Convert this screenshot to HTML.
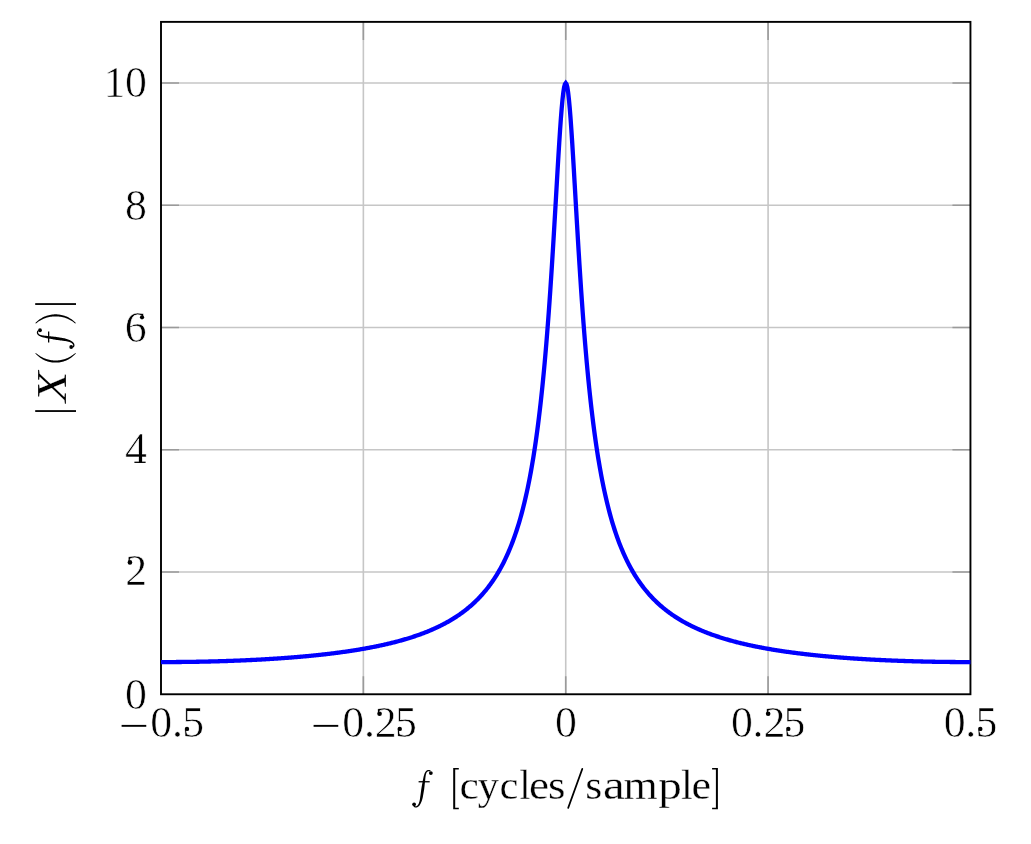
<!DOCTYPE html><html><head><meta charset="utf-8"><style>
html,body{margin:0;padding:0;background:#fff;width:1031px;height:844px;overflow:hidden}
svg{display:block;will-change:transform}
text{font-family:"Liberation Serif",serif;fill:#000}
</style></head><body>
<svg width="1031" height="844" viewBox="0 0 1031 844" role="img" aria-label="|X(f)| versus f [cycles/sample]">
<rect width="1031" height="844" fill="#fff"/>
<path d="M363.36 21.88V694.25M565.73 21.88V694.25M768.09 21.88V694.25M161.00 572.00H970.45M161.00 449.75H970.45M161.00 327.50H970.45M161.00 205.25H970.45M161.00 83.00H970.45" stroke="#c6c6c6" stroke-width="1.6" fill="none"/>
<path d="M363.36 694.25v-18M363.36 21.88v18M565.73 694.25v-18M565.73 21.88v18M768.09 694.25v-18M768.09 21.88v18M161.00 572.00h18M970.45 572.00h-18M161.00 449.75h18M970.45 449.75h-18M161.00 327.50h18M970.45 327.50h-18M161.00 205.25h18M970.45 205.25h-18M161.00 83.00h18M970.45 83.00h-18" stroke="#9a9a9a" stroke-width="1.6" fill="none"/>
<rect x="161.00" y="21.88" width="809.45" height="672.38" stroke="#000" stroke-width="1.9" fill="none"/>
<polyline points="161.00,662.08 161.81,662.08 162.62,662.08 163.43,662.08 164.24,662.08 165.05,662.07 165.86,662.07 166.67,662.07 167.48,662.07 168.29,662.07 169.09,662.06 169.90,662.06 170.71,662.06 171.52,662.05 172.33,662.05 173.14,662.04 173.95,662.04 174.76,662.03 175.57,662.03 176.38,662.02 177.19,662.02 178.00,662.01 178.81,662.00 179.62,662.00 180.43,661.99 181.24,661.98 182.05,661.97 182.86,661.96 183.66,661.95 184.47,661.95 185.28,661.94 186.09,661.93 186.90,661.92 187.71,661.91 188.52,661.90 189.33,661.88 190.14,661.87 190.95,661.86 191.76,661.85 192.57,661.84 193.38,661.82 194.19,661.81 195.00,661.80 195.81,661.78 196.62,661.77 197.43,661.76 198.23,661.74 199.04,661.73 199.85,661.71 200.66,661.70 201.47,661.68 202.28,661.66 203.09,661.65 203.90,661.63 204.71,661.61 205.52,661.59 206.33,661.58 207.14,661.56 207.95,661.54 208.76,661.52 209.57,661.50 210.38,661.48 211.19,661.46 212.00,661.44 212.80,661.42 213.61,661.40 214.42,661.38 215.23,661.35 216.04,661.33 216.85,661.31 217.66,661.29 218.47,661.26 219.28,661.24 220.09,661.22 220.90,661.19 221.71,661.17 222.52,661.14 223.33,661.12 224.14,661.09 224.95,661.07 225.76,661.04 226.57,661.01 227.37,660.98 228.18,660.96 228.99,660.93 229.80,660.90 230.61,660.87 231.42,660.84 232.23,660.81 233.04,660.78 233.85,660.75 234.66,660.72 235.47,660.69 236.28,660.66 237.09,660.63 237.90,660.60 238.71,660.56 239.52,660.53 240.33,660.50 241.14,660.46 241.94,660.43 242.75,660.39 243.56,660.36 244.37,660.32 245.18,660.29 245.99,660.25 246.80,660.21 247.61,660.18 248.42,660.14 249.23,660.10 250.04,660.06 250.85,660.02 251.66,659.99 252.47,659.95 253.28,659.91 254.09,659.87 254.90,659.82 255.71,659.78 256.52,659.74 257.32,659.70 258.13,659.66 258.94,659.61 259.75,659.57 260.56,659.53 261.37,659.48 262.18,659.44 262.99,659.39 263.80,659.35 264.61,659.30 265.42,659.25 266.23,659.20 267.04,659.16 267.85,659.11 268.66,659.06 269.47,659.01 270.28,658.96 271.09,658.91 271.89,658.86 272.70,658.81 273.51,658.76 274.32,658.71 275.13,658.65 275.94,658.60 276.75,658.55 277.56,658.49 278.37,658.44 279.18,658.38 279.99,658.33 280.80,658.27 281.61,658.21 282.42,658.16 283.23,658.10 284.04,658.04 284.85,657.98 285.66,657.92 286.46,657.86 287.27,657.80 288.08,657.74 288.89,657.68 289.70,657.62 290.51,657.55 291.32,657.49 292.13,657.43 292.94,657.36 293.75,657.30 294.56,657.23 295.37,657.16 296.18,657.10 296.99,657.03 297.80,656.96 298.61,656.89 299.42,656.82 300.23,656.75 301.03,656.68 301.84,656.61 302.65,656.54 303.46,656.47 304.27,656.39 305.08,656.32 305.89,656.24 306.70,656.17 307.51,656.09 308.32,656.02 309.13,655.94 309.94,655.86 310.75,655.78 311.56,655.70 312.37,655.62 313.18,655.54 313.99,655.46 314.80,655.38 315.60,655.29 316.41,655.21 317.22,655.13 318.03,655.04 318.84,654.96 319.65,654.87 320.46,654.78 321.27,654.69 322.08,654.60 322.89,654.51 323.70,654.42 324.51,654.33 325.32,654.24 326.13,654.15 326.94,654.05 327.75,653.96 328.56,653.86 329.37,653.76 330.18,653.67 330.98,653.57 331.79,653.47 332.60,653.37 333.41,653.27 334.22,653.17 335.03,653.06 335.84,652.96 336.65,652.86 337.46,652.75 338.27,652.64 339.08,652.54 339.89,652.43 340.70,652.32 341.51,652.21 342.32,652.10 343.13,651.98 343.94,651.87 344.75,651.76 345.55,651.64 346.36,651.53 347.17,651.41 347.98,651.29 348.79,651.17 349.60,651.05 350.41,650.93 351.22,650.80 352.03,650.68 352.84,650.55 353.65,650.43 354.46,650.30 355.27,650.17 356.08,650.04 356.89,649.91 357.70,649.78 358.51,649.64 359.32,649.51 360.12,649.37 360.93,649.24 361.74,649.10 362.55,648.96 363.36,648.82 364.17,648.67 364.98,648.53 365.79,648.38 366.60,648.24 367.41,648.09 368.22,647.94 369.03,647.79 369.84,647.64 370.65,647.48 371.46,647.33 372.27,647.17 373.08,647.01 373.89,646.85 374.69,646.69 375.50,646.53 376.31,646.36 377.12,646.20 377.93,646.03 378.74,645.86 379.55,645.69 380.36,645.52 381.17,645.34 381.98,645.17 382.79,644.99 383.60,644.81 384.41,644.63 385.22,644.44 386.03,644.26 386.84,644.07 387.65,643.88 388.46,643.69 389.26,643.50 390.07,643.30 390.88,643.11 391.69,642.91 392.50,642.71 393.31,642.50 394.12,642.30 394.93,642.09 395.74,641.88 396.55,641.67 397.36,641.46 398.17,641.24 398.98,641.02 399.79,640.80 400.60,640.58 401.41,640.35 402.22,640.12 403.03,639.89 403.84,639.66 404.64,639.42 405.45,639.19 406.26,638.95 407.07,638.70 407.88,638.46 408.69,638.21 409.50,637.96 410.31,637.70 411.12,637.45 411.93,637.19 412.74,636.92 413.55,636.66 414.36,636.39 415.17,636.12 415.98,635.84 416.79,635.56 417.60,635.28 418.41,635.00 419.21,634.71 420.02,634.42 420.83,634.12 421.64,633.82 422.45,633.52 423.26,633.21 424.07,632.90 424.88,632.59 425.69,632.27 426.50,631.95 427.31,631.63 428.12,631.30 428.93,630.97 429.74,630.63 430.55,630.29 431.36,629.94 432.17,629.59 432.98,629.24 433.78,628.88 434.59,628.52 435.40,628.15 436.21,627.77 437.02,627.40 437.83,627.01 438.64,626.63 439.45,626.23 440.26,625.84 441.07,625.43 441.88,625.02 442.69,624.61 443.50,624.19 444.31,623.76 445.12,623.33 445.93,622.89 446.74,622.45 447.55,622.00 448.35,621.54 449.16,621.08 449.97,620.61 450.78,620.13 451.59,619.65 452.40,619.16 453.21,618.66 454.02,618.16 454.83,617.65 455.64,617.13 456.45,616.60 457.26,616.06 458.07,615.52 458.88,614.97 459.69,614.41 460.50,613.84 461.31,613.26 462.12,612.67 462.92,612.08 463.73,611.47 464.54,610.85 465.35,610.23 466.16,609.59 466.97,608.95 467.78,608.29 468.59,607.62 469.40,606.94 470.21,606.25 471.02,605.55 471.83,604.83 472.64,604.11 473.45,603.37 474.26,602.61 475.07,601.85 475.88,601.07 476.69,600.28 477.49,599.47 478.30,598.65 479.11,597.81 479.92,596.95 480.73,596.08 481.54,595.20 482.35,594.30 483.16,593.38 483.97,592.44 484.78,591.48 485.59,590.51 486.40,589.51 487.21,588.50 488.02,587.46 488.83,586.41 489.64,585.33 490.45,584.23 491.26,583.10 492.07,581.96 492.87,580.78 493.68,579.59 494.49,578.36 495.30,577.11 496.11,575.83 496.92,574.53 497.73,573.19 498.54,571.82 499.35,570.42 500.16,568.99 500.97,567.52 501.78,566.02 502.59,564.48 503.40,562.91 504.21,561.29 505.02,559.64 505.83,557.94 506.64,556.20 507.44,554.41 508.25,552.58 509.06,550.70 509.87,548.77 510.68,546.78 511.49,544.74 512.30,542.65 513.11,540.49 513.92,538.28 514.73,536.00 515.54,533.65 516.35,531.23 517.16,528.75 517.97,526.18 518.78,523.54 519.59,520.81 520.40,518.00 521.21,515.10 522.01,512.11 522.82,509.01 523.63,505.81 524.44,502.51 525.25,499.09 526.06,495.55 526.87,491.89 527.68,488.10 528.49,484.17 529.30,480.10 530.11,475.88 530.92,471.49 531.73,466.94 532.54,462.22 533.35,457.31 534.16,452.20 534.97,446.89 535.78,441.36 536.58,435.61 537.39,429.61 538.20,423.36 539.01,416.85 539.82,410.06 540.63,402.97 541.44,395.57 542.25,387.85 543.06,379.79 543.87,371.37 544.68,362.58 545.49,353.41 546.30,343.83 547.11,333.84 547.92,323.42 548.73,312.56 549.54,301.27 550.35,289.54 551.15,277.38 551.96,264.80 552.77,251.83 553.58,238.51 554.39,224.88 555.20,211.03 556.01,197.05 556.82,183.05 557.63,169.18 558.44,155.60 559.25,142.51 560.06,130.13 560.87,118.70 561.68,108.46 562.49,99.67 563.30,92.54 564.11,87.30 564.92,84.08 565.73,83.00 566.53,84.08 567.34,87.30 568.15,92.54 568.96,99.67 569.77,108.46 570.58,118.70 571.39,130.13 572.20,142.51 573.01,155.60 573.82,169.18 574.63,183.05 575.44,197.05 576.25,211.03 577.06,224.88 577.87,238.51 578.68,251.83 579.49,264.80 580.30,277.38 581.10,289.54 581.91,301.27 582.72,312.56 583.53,323.42 584.34,333.84 585.15,343.83 585.96,353.41 586.77,362.58 587.58,371.37 588.39,379.79 589.20,387.85 590.01,395.57 590.82,402.97 591.63,410.06 592.44,416.85 593.25,423.36 594.06,429.61 594.87,435.61 595.67,441.36 596.48,446.89 597.29,452.20 598.10,457.31 598.91,462.22 599.72,466.94 600.53,471.49 601.34,475.88 602.15,480.10 602.96,484.17 603.77,488.10 604.58,491.89 605.39,495.55 606.20,499.09 607.01,502.51 607.82,505.81 608.63,509.01 609.44,512.11 610.24,515.10 611.05,518.00 611.86,520.81 612.67,523.54 613.48,526.18 614.29,528.75 615.10,531.23 615.91,533.65 616.72,536.00 617.53,538.28 618.34,540.49 619.15,542.65 619.96,544.74 620.77,546.78 621.58,548.77 622.39,550.70 623.20,552.58 624.01,554.41 624.81,556.20 625.62,557.94 626.43,559.64 627.24,561.29 628.05,562.91 628.86,564.48 629.67,566.02 630.48,567.52 631.29,568.99 632.10,570.42 632.91,571.82 633.72,573.19 634.53,574.53 635.34,575.83 636.15,577.11 636.96,578.36 637.77,579.59 638.58,580.78 639.38,581.96 640.19,583.10 641.00,584.23 641.81,585.33 642.62,586.41 643.43,587.46 644.24,588.50 645.05,589.51 645.86,590.51 646.67,591.48 647.48,592.44 648.29,593.38 649.10,594.30 649.91,595.20 650.72,596.08 651.53,596.95 652.34,597.81 653.15,598.65 653.96,599.47 654.76,600.28 655.57,601.07 656.38,601.85 657.19,602.61 658.00,603.37 658.81,604.11 659.62,604.83 660.43,605.55 661.24,606.25 662.05,606.94 662.86,607.62 663.67,608.29 664.48,608.95 665.29,609.59 666.10,610.23 666.91,610.85 667.72,611.47 668.53,612.08 669.33,612.67 670.14,613.26 670.95,613.84 671.76,614.41 672.57,614.97 673.38,615.52 674.19,616.06 675.00,616.60 675.81,617.13 676.62,617.65 677.43,618.16 678.24,618.66 679.05,619.16 679.86,619.65 680.67,620.13 681.48,620.61 682.29,621.08 683.10,621.54 683.90,622.00 684.71,622.45 685.52,622.89 686.33,623.33 687.14,623.76 687.95,624.19 688.76,624.61 689.57,625.02 690.38,625.43 691.19,625.84 692.00,626.23 692.81,626.63 693.62,627.01 694.43,627.40 695.24,627.77 696.05,628.15 696.86,628.52 697.67,628.88 698.47,629.24 699.28,629.59 700.09,629.94 700.90,630.29 701.71,630.63 702.52,630.97 703.33,631.30 704.14,631.63 704.95,631.95 705.76,632.27 706.57,632.59 707.38,632.90 708.19,633.21 709.00,633.52 709.81,633.82 710.62,634.12 711.43,634.42 712.24,634.71 713.04,635.00 713.85,635.28 714.66,635.56 715.47,635.84 716.28,636.12 717.09,636.39 717.90,636.66 718.71,636.92 719.52,637.19 720.33,637.45 721.14,637.70 721.95,637.96 722.76,638.21 723.57,638.46 724.38,638.70 725.19,638.95 726.00,639.19 726.81,639.42 727.62,639.66 728.42,639.89 729.23,640.12 730.04,640.35 730.85,640.58 731.66,640.80 732.47,641.02 733.28,641.24 734.09,641.46 734.90,641.67 735.71,641.88 736.52,642.09 737.33,642.30 738.14,642.50 738.95,642.71 739.76,642.91 740.57,643.11 741.38,643.30 742.19,643.50 742.99,643.69 743.80,643.88 744.61,644.07 745.42,644.26 746.23,644.44 747.04,644.63 747.85,644.81 748.66,644.99 749.47,645.17 750.28,645.34 751.09,645.52 751.90,645.69 752.71,645.86 753.52,646.03 754.33,646.20 755.14,646.36 755.95,646.53 756.76,646.69 757.56,646.85 758.37,647.01 759.18,647.17 759.99,647.33 760.80,647.48 761.61,647.64 762.42,647.79 763.23,647.94 764.04,648.09 764.85,648.24 765.66,648.38 766.47,648.53 767.28,648.67 768.09,648.82 768.90,648.96 769.71,649.10 770.52,649.24 771.33,649.37 772.13,649.51 772.94,649.64 773.75,649.78 774.56,649.91 775.37,650.04 776.18,650.17 776.99,650.30 777.80,650.43 778.61,650.55 779.42,650.68 780.23,650.80 781.04,650.93 781.85,651.05 782.66,651.17 783.47,651.29 784.28,651.41 785.09,651.53 785.90,651.64 786.70,651.76 787.51,651.87 788.32,651.98 789.13,652.10 789.94,652.21 790.75,652.32 791.56,652.43 792.37,652.54 793.18,652.64 793.99,652.75 794.80,652.86 795.61,652.96 796.42,653.06 797.23,653.17 798.04,653.27 798.85,653.37 799.66,653.47 800.47,653.57 801.27,653.67 802.08,653.76 802.89,653.86 803.70,653.96 804.51,654.05 805.32,654.15 806.13,654.24 806.94,654.33 807.75,654.42 808.56,654.51 809.37,654.60 810.18,654.69 810.99,654.78 811.80,654.87 812.61,654.96 813.42,655.04 814.23,655.13 815.04,655.21 815.85,655.29 816.65,655.38 817.46,655.46 818.27,655.54 819.08,655.62 819.89,655.70 820.70,655.78 821.51,655.86 822.32,655.94 823.13,656.02 823.94,656.09 824.75,656.17 825.56,656.24 826.37,656.32 827.18,656.39 827.99,656.47 828.80,656.54 829.61,656.61 830.42,656.68 831.22,656.75 832.03,656.82 832.84,656.89 833.65,656.96 834.46,657.03 835.27,657.10 836.08,657.16 836.89,657.23 837.70,657.30 838.51,657.36 839.32,657.43 840.13,657.49 840.94,657.55 841.75,657.62 842.56,657.68 843.37,657.74 844.18,657.80 844.99,657.86 845.79,657.92 846.60,657.98 847.41,658.04 848.22,658.10 849.03,658.16 849.84,658.21 850.65,658.27 851.46,658.33 852.27,658.38 853.08,658.44 853.89,658.49 854.70,658.55 855.51,658.60 856.32,658.65 857.13,658.71 857.94,658.76 858.75,658.81 859.56,658.86 860.36,658.91 861.17,658.96 861.98,659.01 862.79,659.06 863.60,659.11 864.41,659.16 865.22,659.20 866.03,659.25 866.84,659.30 867.65,659.35 868.46,659.39 869.27,659.44 870.08,659.48 870.89,659.53 871.70,659.57 872.51,659.61 873.32,659.66 874.13,659.70 874.93,659.74 875.74,659.78 876.55,659.82 877.36,659.87 878.17,659.91 878.98,659.95 879.79,659.99 880.60,660.02 881.41,660.06 882.22,660.10 883.03,660.14 883.84,660.18 884.65,660.21 885.46,660.25 886.27,660.29 887.08,660.32 887.89,660.36 888.70,660.39 889.51,660.43 890.31,660.46 891.12,660.50 891.93,660.53 892.74,660.56 893.55,660.60 894.36,660.63 895.17,660.66 895.98,660.69 896.79,660.72 897.60,660.75 898.41,660.78 899.22,660.81 900.03,660.84 900.84,660.87 901.65,660.90 902.46,660.93 903.27,660.96 904.08,660.98 904.88,661.01 905.69,661.04 906.50,661.07 907.31,661.09 908.12,661.12 908.93,661.14 909.74,661.17 910.55,661.19 911.36,661.22 912.17,661.24 912.98,661.26 913.79,661.29 914.60,661.31 915.41,661.33 916.22,661.35 917.03,661.38 917.84,661.40 918.65,661.42 919.45,661.44 920.26,661.46 921.07,661.48 921.88,661.50 922.69,661.52 923.50,661.54 924.31,661.56 925.12,661.58 925.93,661.59 926.74,661.61 927.55,661.63 928.36,661.65 929.17,661.66 929.98,661.68 930.79,661.70 931.60,661.71 932.41,661.73 933.22,661.74 934.02,661.76 934.83,661.77 935.64,661.78 936.45,661.80 937.26,661.81 938.07,661.82 938.88,661.84 939.69,661.85 940.50,661.86 941.31,661.87 942.12,661.88 942.93,661.90 943.74,661.91 944.55,661.92 945.36,661.93 946.17,661.94 946.98,661.95 947.79,661.95 948.59,661.96 949.40,661.97 950.21,661.98 951.02,661.99 951.83,662.00 952.64,662.00 953.45,662.01 954.26,662.02 955.07,662.02 955.88,662.03 956.69,662.03 957.50,662.04 958.31,662.04 959.12,662.05 959.93,662.05 960.74,662.06 961.55,662.06 962.36,662.06 963.16,662.07 963.97,662.07 964.78,662.07 965.59,662.07 966.40,662.07 967.21,662.08 968.02,662.08 968.83,662.08 969.64,662.08 970.45,662.08" stroke="#0000ff" stroke-width="4.3" fill="none" stroke-linejoin="miter" stroke-miterlimit="10"/>
<text x="124.98" y="708.65" font-size="43.8" stroke="#fff" stroke-width="0.6">0</text>
<text x="125.22" y="585.20" font-size="43.8" stroke="#fff" stroke-width="0.6">2</text>
<circle cx="129.93" cy="562.40" r="2.3"/>
<text x="124.89" y="462.95" font-size="43.8" stroke="#fff" stroke-width="0.6">4</text>
<rect x="134.4" y="461.65" width="11.2" height="1.3"/>
<text x="124.69" y="341.90" font-size="43.8" stroke="#fff" stroke-width="0.6">6</text>
<circle cx="142.03" cy="317.30" r="2.1"/>
<text x="124.98" y="219.65" font-size="43.8" stroke="#fff" stroke-width="0.6">8</text>
<text x="103.62 124.98" y="97.40 97.40" font-size="43.8" stroke="#fff" stroke-width="0.6">10</text>
<rect x="121.60" y="724.90" width="24.66" height="1.9"/>
<text x="150.35 171.96 182.21" y="737.10 736.50 737.10" font-size="43.8" stroke="#fff" stroke-width="0.6">0.5</text>
<circle cx="186.98" cy="728.90" r="2.2"/>
<rect x="313.59" y="724.90" width="24.66" height="1.9"/>
<text x="342.34 363.95 374.86 394.95" y="737.10 736.50 736.50 737.10" font-size="43.8" stroke="#fff" stroke-width="0.6">0.25</text>
<circle cx="379.57" cy="713.70" r="2.3"/>
<circle cx="399.72" cy="728.90" r="2.2"/>
<text x="555.07" y="737.10" font-size="43.8" stroke="#fff" stroke-width="0.6">0</text>
<text x="730.92 752.54 763.45 783.53" y="737.10 736.50 736.50 737.10" font-size="43.8" stroke="#fff" stroke-width="0.6">0.25</text>
<circle cx="768.15" cy="713.70" r="2.3"/>
<circle cx="788.30" cy="728.90" r="2.2"/>
<text x="943.66 965.27 975.52" y="737.10 736.50 737.10" font-size="43.8" stroke="#fff" stroke-width="0.6">0.5</text>
<circle cx="980.29" cy="728.90" r="2.2"/>
<g transform="translate(412.0,769.9)"><path d="M18.72,0.87 18.57,0.72 18.37,0.56 18.16,0.42 17.92,0.30 17.68,0.21 17.42,0.13 17.15,0.08 16.88,0.05 16.60,0.05 16.31,0.07 16.01,0.11 15.72,0.18 15.42,0.28 15.13,0.41 14.84,0.57 14.56,0.76 14.28,0.97 14.02,1.22 13.77,1.50 13.53,1.81 13.33,2.12 13.15,2.43 12.98,2.76 12.81,3.10 12.66,3.46 12.51,3.84 12.36,4.23 12.22,4.63 12.09,5.05 11.97,5.48 11.84,5.92 11.72,6.38 11.61,6.84 11.50,7.32 11.39,7.80 11.28,8.29 11.17,8.79 11.07,9.30 10.96,9.82 10.86,10.33 10.71,11.15 10.57,11.96 10.42,12.77 10.28,13.56 10.14,14.35 10.00,15.14 9.86,15.92 9.72,16.70 9.58,17.47 9.44,18.23 9.30,18.99 9.20,19.76 9.10,20.52 9.01,21.28 8.91,22.03 8.81,22.79 8.70,23.54 8.60,24.29 8.50,25.04 8.39,25.79 8.30,26.47 8.20,27.16 8.11,27.87 8.02,28.58 7.91,29.30 7.78,30.01 7.64,30.71 7.47,31.39 7.29,32.05 7.09,32.69 6.87,33.29 6.63,33.85 6.35,34.37 6.05,34.82 5.72,35.23 5.39,35.57 5.03,35.85 4.66,36.08 4.26,36.24 3.79,36.34 3.74,36.34 3.65,36.35 3.56,36.35 3.48,36.34 3.41,36.33 3.33,36.32 3.26,36.30 3.19,36.27 3.12,36.24 3.06,36.21 2.99,36.17 2.93,36.13 2.88,36.09 2.82,36.04 2.77,35.98 2.72,35.93 2.67,35.86 2.63,35.80 2.59,35.73 2.54,35.65 1.46,36.15 1.51,36.27 1.58,36.41 1.65,36.54 1.74,36.66 1.83,36.78 1.93,36.89 2.03,37.00 2.14,37.11 2.27,37.20 2.39,37.29 2.53,37.37 2.67,37.44 2.81,37.51 2.97,37.56 3.12,37.60 3.29,37.64 3.45,37.66 3.62,37.67 3.80,37.68 4.01,37.66 4.62,37.56 5.23,37.36 5.80,37.07 6.33,36.70 6.81,36.26 7.26,35.77 7.67,35.23 8.05,34.65 8.42,34.04 8.76,33.39 9.07,32.71 9.37,32.01 9.64,31.29 9.90,30.56 10.13,29.83 10.35,29.09 10.55,28.35 10.74,27.62 10.88,26.90 11.01,26.21 11.14,25.46 11.27,24.71 11.40,23.96 11.53,23.20 11.66,22.45 11.79,21.70 11.92,20.94 12.05,20.18 12.17,19.42 12.26,18.64 12.34,17.87 12.43,17.09 12.52,16.31 12.60,15.52 12.69,14.72 12.78,13.92 12.87,13.12 12.96,12.31 13.05,11.49 13.14,10.67 13.19,10.14 13.24,9.62 13.28,9.12 13.33,8.62 13.38,8.13 13.44,7.65 13.49,7.19 13.55,6.74 13.62,6.30 13.68,5.87 13.76,5.46 13.83,5.06 13.92,4.69 14.01,4.32 14.10,3.98 14.20,3.66 14.31,3.35 14.42,3.07 14.55,2.81 14.67,2.59 14.83,2.36 15.00,2.16 15.18,1.98 15.36,1.82 15.54,1.69 15.73,1.58 15.91,1.49 16.10,1.42 16.29,1.37 16.47,1.33 16.65,1.31 16.82,1.31 16.99,1.32 17.15,1.35 17.30,1.38 17.44,1.43 17.56,1.49 17.67,1.55 17.77,1.62 17.88,1.73Z" fill="#000"/><circle cx="18.85" cy="3.2" r="1.9"/><circle cx="2.1" cy="34.4" r="1.9"/><path d="M6.6 11.85H17.7" stroke="#000" stroke-width="1.3"/></g>
<path d="M453.2 768.0H458.8V769.4H455.2V807.8H458.8V809.2H453.2Z"/>
<text transform="matrix(1.08667,0,0,1.02400,459.545,799.400)" font-size="40.0" stroke="#fff" stroke-width="0.3">c</text>
<text transform="matrix(1.05913,0,0,0.99288,477.783,799.129)" font-size="40.0" stroke="#fff" stroke-width="0.3">y</text>
<text transform="matrix(1.06000,0,0,1.02400,499.585,799.400)" font-size="40.0" stroke="#fff" stroke-width="0.3">c</text>
<text transform="matrix(0.97774,0,0,1.04850,519.417,799.100)" font-size="40.0" stroke="#fff" stroke-width="0.3">l</text>
<text transform="matrix(1.12802,0,0,1.04479,529.037,799.392)" font-size="40.0" stroke="#fff" stroke-width="0.3">e</text>
<text transform="matrix(1.12175,0,0,1.04479,547.960,799.392)" font-size="40.0" stroke="#fff" stroke-width="0.3">s</text>
<path d="M582.3 768.9L568.2 807.9" stroke="#000" stroke-width="1.7" stroke-linecap="round"/>
<text transform="matrix(1.08970,0,0,1.04479,585.312,799.392)" font-size="40.0" stroke="#fff" stroke-width="0.3">s</text>
<text transform="matrix(1.22779,0,0,1.02818,602.973,799.398)" font-size="40.0" stroke="#fff" stroke-width="0.3">a</text>
<text transform="matrix(1.09955,0,0,1.00808,623.577,799.100)" font-size="40.0" stroke="#fff" stroke-width="0.3">m</text>
<text transform="matrix(1.18024,0,0,1.00865,658.139,798.711)" font-size="40.0" stroke="#fff" stroke-width="0.3">p</text>
<text transform="matrix(1.06185,0,0,1.04850,680.950,799.100)" font-size="40.0" stroke="#fff" stroke-width="0.3">l</text>
<text transform="matrix(1.10100,0,0,1.04479,691.380,799.392)" font-size="40.0" stroke="#fff" stroke-width="0.3">e</text>
<path d="M717.9 768.0H712.1V769.4H715.9V807.8H712.1V809.2H717.9Z"/>
<rect x="35.2" y="410.15" width="40.80" height="1.8"/>
<text transform="matrix(0,-1.26429,1.08051,0,65.900,402.321)" font-size="40.0" font-style="italic" stroke="#fff" stroke-width="0.15">X</text>
<path d="M35.32,353.49 36.09,354.30 36.90,355.10 37.74,355.86 38.61,356.59 39.51,357.28 40.44,357.94 41.40,358.56 42.39,359.14 43.40,359.68 44.43,360.17 45.49,360.63 46.56,361.03 47.65,361.40 48.76,361.71 49.88,361.98 51.01,362.20 52.15,362.38 53.30,362.50 54.45,362.58 55.60,362.60 56.75,362.58 57.90,362.50 59.05,362.38 60.19,362.20 61.32,361.98 62.44,361.71 63.55,361.40 64.64,361.03 65.71,360.63 66.77,360.17 67.80,359.68 68.81,359.14 69.80,358.56 70.76,357.94 71.69,357.28 72.59,356.59 73.46,355.86 74.30,355.10 75.11,354.30 75.88,353.49 75.32,352.91 74.49,353.65 73.65,354.34 72.77,355.00 71.88,355.62 70.96,356.21 70.02,356.76 69.07,357.27 68.10,357.75 67.11,358.18 66.11,358.59 65.09,358.95 64.06,359.27 63.03,359.56 61.98,359.81 60.93,360.02 59.87,360.19 58.81,360.33 57.74,360.42 56.67,360.48 55.60,360.50 54.53,360.48 53.46,360.42 52.39,360.33 51.33,360.19 50.27,360.02 49.22,359.81 48.17,359.56 47.14,359.27 46.11,358.95 45.09,358.59 44.09,358.18 43.10,357.75 42.13,357.27 41.18,356.76 40.24,356.21 39.32,355.62 38.43,355.00 37.55,354.34 36.71,353.65 35.88,352.91Z"/>
<g transform="matrix(0,-1,1,0,36.8,349.1)"><path d="M18.72,0.87 18.57,0.72 18.37,0.56 18.16,0.42 17.92,0.30 17.68,0.21 17.42,0.13 17.15,0.08 16.88,0.05 16.60,0.05 16.31,0.07 16.01,0.11 15.72,0.18 15.42,0.28 15.13,0.41 14.84,0.57 14.56,0.76 14.28,0.97 14.02,1.22 13.77,1.50 13.53,1.81 13.33,2.12 13.15,2.43 12.98,2.76 12.81,3.10 12.66,3.46 12.51,3.84 12.36,4.23 12.22,4.63 12.09,5.05 11.97,5.48 11.84,5.92 11.72,6.38 11.61,6.84 11.50,7.32 11.39,7.80 11.28,8.29 11.17,8.79 11.07,9.30 10.96,9.82 10.86,10.33 10.71,11.15 10.57,11.96 10.42,12.77 10.28,13.56 10.14,14.35 10.00,15.14 9.86,15.92 9.72,16.70 9.58,17.47 9.44,18.23 9.30,18.99 9.20,19.76 9.10,20.52 9.01,21.28 8.91,22.03 8.81,22.79 8.70,23.54 8.60,24.29 8.50,25.04 8.39,25.79 8.30,26.47 8.20,27.16 8.11,27.87 8.02,28.58 7.91,29.30 7.78,30.01 7.64,30.71 7.47,31.39 7.29,32.05 7.09,32.69 6.87,33.29 6.63,33.85 6.35,34.37 6.05,34.82 5.72,35.23 5.39,35.57 5.03,35.85 4.66,36.08 4.26,36.24 3.79,36.34 3.74,36.34 3.65,36.35 3.56,36.35 3.48,36.34 3.41,36.33 3.33,36.32 3.26,36.30 3.19,36.27 3.12,36.24 3.06,36.21 2.99,36.17 2.93,36.13 2.88,36.09 2.82,36.04 2.77,35.98 2.72,35.93 2.67,35.86 2.63,35.80 2.59,35.73 2.54,35.65 1.46,36.15 1.51,36.27 1.58,36.41 1.65,36.54 1.74,36.66 1.83,36.78 1.93,36.89 2.03,37.00 2.14,37.11 2.27,37.20 2.39,37.29 2.53,37.37 2.67,37.44 2.81,37.51 2.97,37.56 3.12,37.60 3.29,37.64 3.45,37.66 3.62,37.67 3.80,37.68 4.01,37.66 4.62,37.56 5.23,37.36 5.80,37.07 6.33,36.70 6.81,36.26 7.26,35.77 7.67,35.23 8.05,34.65 8.42,34.04 8.76,33.39 9.07,32.71 9.37,32.01 9.64,31.29 9.90,30.56 10.13,29.83 10.35,29.09 10.55,28.35 10.74,27.62 10.88,26.90 11.01,26.21 11.14,25.46 11.27,24.71 11.40,23.96 11.53,23.20 11.66,22.45 11.79,21.70 11.92,20.94 12.05,20.18 12.17,19.42 12.26,18.64 12.34,17.87 12.43,17.09 12.52,16.31 12.60,15.52 12.69,14.72 12.78,13.92 12.87,13.12 12.96,12.31 13.05,11.49 13.14,10.67 13.19,10.14 13.24,9.62 13.28,9.12 13.33,8.62 13.38,8.13 13.44,7.65 13.49,7.19 13.55,6.74 13.62,6.30 13.68,5.87 13.76,5.46 13.83,5.06 13.92,4.69 14.01,4.32 14.10,3.98 14.20,3.66 14.31,3.35 14.42,3.07 14.55,2.81 14.67,2.59 14.83,2.36 15.00,2.16 15.18,1.98 15.36,1.82 15.54,1.69 15.73,1.58 15.91,1.49 16.10,1.42 16.29,1.37 16.47,1.33 16.65,1.31 16.82,1.31 16.99,1.32 17.15,1.35 17.30,1.38 17.44,1.43 17.56,1.49 17.67,1.55 17.77,1.62 17.88,1.73Z" fill="#000"/><circle cx="18.85" cy="3.2" r="1.9"/><circle cx="2.1" cy="34.4" r="1.9"/><path d="M6.6 11.85H17.7" stroke="#000" stroke-width="1.3"/></g>
<path d="M35.87,323.60 36.71,322.90 37.57,322.24 38.46,321.61 39.36,321.02 40.29,320.46 41.23,319.94 42.19,319.46 43.17,319.00 44.15,318.59 45.16,318.21 46.17,317.87 47.19,317.56 48.22,317.29 49.26,317.05 50.31,316.85 51.36,316.69 52.42,316.56 53.48,316.47 54.54,316.42 55.60,316.40 56.66,316.42 57.72,316.47 58.78,316.56 59.84,316.69 60.89,316.85 61.94,317.05 62.98,317.29 64.01,317.56 65.03,317.87 66.04,318.21 67.05,318.59 68.03,319.00 69.01,319.46 69.97,319.94 70.91,320.46 71.84,321.02 72.74,321.61 73.63,322.24 74.49,322.90 75.33,323.60 75.87,323.00 75.08,322.22 74.26,321.46 73.40,320.73 72.52,320.03 71.61,319.37 70.67,318.74 69.71,318.15 68.72,317.60 67.71,317.08 66.68,316.61 65.63,316.18 64.56,315.79 63.48,315.44 62.38,315.14 61.27,314.89 60.15,314.68 59.02,314.51 57.88,314.39 56.74,314.32 55.60,314.30 54.46,314.32 53.32,314.39 52.18,314.51 51.05,314.68 49.93,314.89 48.82,315.14 47.72,315.44 46.64,315.79 45.57,316.18 44.52,316.61 43.49,317.08 42.48,317.60 41.49,318.15 40.53,318.74 39.59,319.37 38.68,320.03 37.80,320.73 36.94,321.46 36.12,322.22 35.33,323.00Z"/>
<rect x="35.2" y="303.15" width="40.80" height="1.8"/>
</svg></body></html>
